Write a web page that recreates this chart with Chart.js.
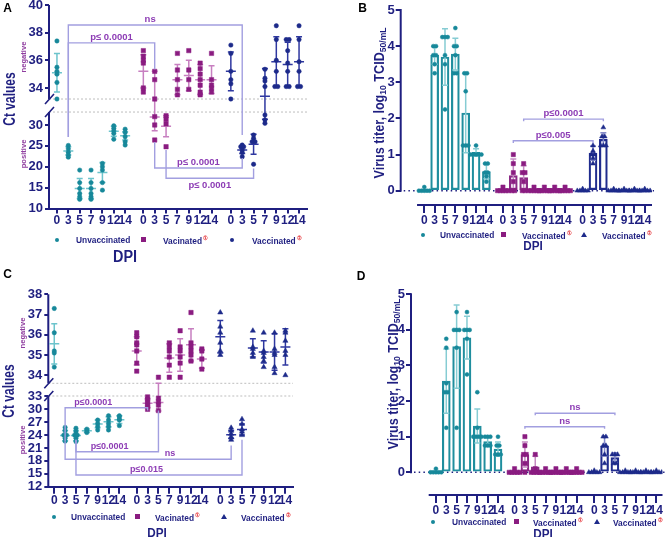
<!DOCTYPE html>
<html><head><meta charset="utf-8">
<script src="https://cdn.jsdelivr.net/npm/chart.js@4.4.1/dist/chart.umd.min.js"></script>
<style>
html,body{margin:0;padding:0;background:#fff;}
#wrap{position:relative;width:666px;height:537px;overflow:hidden;font-family:'Liberation Sans',Arial,sans-serif;}
canvas{position:absolute;}
.t{position:absolute;white-space:nowrap;font-weight:bold;line-height:1;color:#1f1f80;}
.mk{position:absolute;}
sub{font-size:0.68em;vertical-align:-0.25em;line-height:0;}
.sup{color:#e3262b;font-size:6px;vertical-align:4px;margin-left:1px;}
</style></head>
<body><div id="wrap">
<canvas id="cA" width="333" height="265" style="left:0;top:0"></canvas>
<canvas id="cB" width="333" height="265" style="left:333px;top:0"></canvas>
<canvas id="cC" width="333" height="272" style="left:0;top:265px"></canvas>
<canvas id="cD" width="333" height="272" style="left:333px;top:265px"></canvas>
</div>
<script>
// ---------------- DATA ----------------
const DAYS = ['0','3','5','7','9','12','14'];
const GROUPS_AC = ['Unvaccinated','Vacinated','Vaccinated'];
const GROUPS_BD = ['Unvaccinated','Vaccinated','Vaccinated'];
const GROUP_SUP = ['','①','②'];
const TICKS_A = [10,15,20,25,30,34,36,38,40];
const TICKS_C = [12,15,18,21,24,27,30,33,34,35,36,37,38];
const TICKS_T = [0,1,2,3,4,5];

// Panel A: Ct values (points per DPI)
const aUnvacc = [[37.4,35.5,35.2,35.0,34.4,33.2],[25.1,24.3,23.5,22.8,22.3],[19.2,16.2,14.8,13.6,12.8,12.2],[19.2,16.2,14.8,13.6,12.8,12.2],[20.8,20.0,19.2,16.2,14.4],[29.8,29.2,28.6,28.0,26.6],[29.0,28.2,27.2,26.0,25.2]];
const aUnvaccMean = [35.1,23.8,14.8,14.8,18.6,28.5,27.4];
const aUnvaccSd = [1.4,1.0,2.4,2.4,2.4,1.2,1.0];
const aVac1 = [[36.7,36.3,36.0,35.8,34.0,33.7],[35.2,34.6,33.2,32.0,30.0,26.4],[32.2,31.4,30.3,24.8],[36.5,35.3,34.6,33.9,33.5],[36.7,35.3,34.6,33.9],[35.8,35.4,35.0,34.6,34.2,33.7,33.5],[36.5,34.6,34.2,34.0,33.7]];
const aVac1Mean = [35.2,31.9,29.7,34.6,34.9,34.6,34.6];
const aVac1Sd = [1.2,3.3,2.5,1.1,1.1,1.1,1.0];
const aVac2 = [[37.1,36.5,35.2,34.6,34.3,33.2],[25.2,24.8,24.8,24.0,23.4,22.4],[27.6,26.8,26.0,26.0,20.6],[35.35,34.7,34.5,34.1,32.4,31.2,30.4],[38.5,37.5,36.0,35.2,34.1,34.1],[37.5,37.5,36.7,35.8,35.2,34.1,34.1],[38.5,37.5,35.9,35.2,34.1,34.1]];
const aVac2Mean = [35.2,24.0,25.4,33.4,35.9,35.7,35.9];
const aVac2Sd = [1.4,0.8,2.4,2.0,1.8,1.6,1.8];

// Panel B: virus titer
const bUnvacc = [[0.1,0,0,0,0,0],[4.0,4.0,3.75,3.75,3.5,3.25],[4.25,4.25,4.25,3.75,3.5,2.25],[4.5,4.0,4.0,3.75,3.25,3.25],[3.25,3.25,2.75,1.25,1.25,1.25],[1.25,1.0,1.0,1.0,1.0,1.0],[0.75,0.75,0.5,0.5,0.4,0.25]];
const bUnvaccMean = [0.02,3.75,3.7,3.78,2.15,1.06,0.53];
const bUnvaccSd = [0,0.25,0.78,0.44,1.1,0.1,0.2];
const bVac1 = [[0.1,0,0,0,0,0],[1.0,0.75,0.5,0.25,0,0],[0.75,0.5,0.5,0.25,0,0],[0.1,0,0,0,0,0],[0.1,0,0,0,0,0],[0.1,0,0,0,0,0],[0.1,0,0,0,0,0]];
const bVac1Mean = [0.02,0.42,0.36,0.02,0.02,0.02,0.02];
const bVac1Sd = [0,0.46,0.33,0,0,0,0];
const bVac2 = [[0.05,0,0,0,0,0],[1.25,1.1,1.0,1.0,0.9,0.75],[1.75,1.5,1.5,1.25,1.25,1.25],[0.05,0,0,0,0,0],[0.05,0,0,0,0,0],[0.05,0,0,0,0,0],[0.05,0,0,0,0,0]];
const bVac2Mean = [0.02,1.04,1.42,0.02,0.02,0.02,0.02];
const bVac2Sd = [0,0.2,0.18,0,0,0,0];

// Panel C: Ct values
const cUnvacc = [[37.3,36.1,35.2,35.1,34.4],[25.8,25.0,24.0,24.0,23.3,22.6],[25.6,24.8,24.0,24.0,23.3,22.5],[25.4,25.0,24.6],[27.5,26.7,26.0,25.2],[28.5,27.5,26.7,26.0,25.2],[28.5,28.3,27.7,27.5,26.2]];
const cUnvaccMean = [35.55,23.9,23.9,25.0,26.6,27.1,27.6];
const cUnvaccSd = [1.0,1.2,1.2,0.4,0.9,1.2,0.9];
const cVac1 = [[36.1,35.9,35.6,35.5,35.2,34.6,34.2],[32.9,32.3,31.7,31.1,30.6,30.0],[33.9,32.6,31.8,31.0,29.7],[35.6,35.4,35.2,34.9,34.5,33.9],[36.2,35.4,35.2,34.9,34.6,33.9],[37.1,35.6,35.4,35.2,35.0,34.7],[35.3,35.2,34.8,34.3]];
const cVac1Mean = [35.2,31.4,31.6,34.85,35.0,35.5,34.8];
const cVac1Sd = [0.7,1.0,2.0,0.7,0.8,0.8,0.45];
const cVac2 = [[37.1,36.4,36.1,35.6,35.2,35.0],[25.7,25.0,24.3,23.6,22.9],[27.7,26.6,25.3,24.8,24.0],[36.2,35.4,35.3,35.1,34.9],[36.1,35.2,35.1,34.9,34.7,34.4],[36.1,35.3,35.1,35.0,34.4,34.1],[36.2,36.1,35.7,35.2,35.0,34.0]];
const cVac2Mean = [35.9,24.1,25.3,35.35,35.15,35.15,35.4];
const cVac2Sd = [0.8,0.9,1.3,0.45,0.55,0.9,0.9];

// Panel D: virus titer
const dUnvacc = [[0.1,0,0,0,0,0],[3.75,3.5,2.5,2.25,2.25,1.25],[4.5,4.0,4.0,4.0,3.5,1.25],[4.5,4.0,4.0,4.0,3.75,2.75],[2.25,1.25,1.0,1.0,1.0,1.0],[1.0,1.0,1.0,0.75,0.75,0.75],[1.0,0.75,0.75,0.5,0.5,0.5]];
const dUnvaccMean = [0.02,2.56,3.53,3.78,1.3,0.86,0.65];
const dUnvaccSd = [0,0.9,1.17,0.6,0.48,0.13,0.2];
const dVac1 = [[0.1,0,0,0,0,0],[1.0,0.75,0.5,0.5,0.25,0],[0.5,0.1,0,0,0,0],[0.1,0,0,0,0,0],[0.1,0,0,0,0,0],[0.1,0,0,0,0,0],[0.1,0,0,0,0,0]];
const dVac1Mean = [0.02,0.5,0.15,0.02,0.02,0.02,0.02];
const dVac1Sd = [0,0.35,0.3,0,0,0,0];
const dVac2 = [[0.05,0,0,0,0,0],[1.0,1.0,0.75,0.75,0.5,0.25],[0.5,0.5,0.5,0.25,0.25],[0.05,0,0,0,0,0],[0.05,0,0,0,0,0],[0.05,0,0,0,0,0],[0.05,0,0,0,0,0]];
const dVac2Mean = [0.02,0.74,0.41,0.02,0.02,0.02,0.02];
const dVac2Sd = [0,0.28,0.14,0,0,0,0];

// Significance annotations: [group, dayIndex] pairs, levels in axis units
const bracketsA = [
  {from:[0,1], to:[2,1], level:38.55, e1:27.1, e2:27.6, label:'ns', lx:8.2},
  {from:[0,1], to:[1,1], level:37.26, e1:27.1, e2:35.35, label:'p≤ 0.0001'},
  {from:[1,1], to:[2,1], level:19.7, e1:25.9, e2:22.1, label:'p≤ 0.0001'},
  {from:[1,2], to:[2,2], level:17.24, e1:24.0, e2:19.6, label:'p≤ 0.0001', below:true}
];
const bracketsB = [
  {from:[1,2], to:[2,2], level:1.98, e1:1.92, e2:1.92, label:'p≤0.0001'},
  {from:[1,1], to:[2,1], level:1.38, e1:1.32, e2:1.32, label:'p≤0.005'}
];
const bracketsC = [
  {from:[0,1], to:[1,1], level:30.37, e1:22.5, e2:29.7, label:'p≤0.0001', lx:3.6},
  {from:[0,2], to:[1,2], level:20.14, e1:22.9, e2:29.7, label:'p≤0.0001', lx:5.1},
  {from:[0,1], to:[2,1], level:18.37, e1:22.5, e2:21.6, label:'ns', lx:10.66},
  {from:[0,2], to:[2,2], level:14.72, e1:22.9, e2:22.9, label:'p≤0.015', lx:8.5}
];
const bracketsD = [
  {from:[1,2], to:[2,2], level:1.66, e1:1.6, e2:1.6, label:'ns'},
  {from:[1,1], to:[2,1], level:1.28, e1:1.22, e2:1.22, label:'ns'}
];

// ---------------- STYLE / LAYOUT ----------------
const NAVY = '#1f1f80';
const BRACKET = '#a29fe0';
const PTEXT = '#8d3cb5';
const COL = [
  {pt:'#17889a', sd:'#6cc4cc', bar:'#1f8e9e', barSd:'#86ccd3'},
  {pt:'#8a1c80', sd:'#c77fc0', bar:'#8b2a86', barSd:'#c58bc2'},
  {pt:'#1d2a8a', sd:'#2f38a0', bar:'#202c8e', barSd:'#858bca'}
];
const GROUP_OFFSET = [0, 7.6, 15.3];
const xPos = (g, i) => GROUP_OFFSET[g] + i;
const XTICKS = [];
for (let g = 0; g < 3; g++) for (let i = 0; i < 7; i++) XTICKS.push(xPos(g, i));
const SPREAD = 0.26;
const XFONT = {family:"'Liberation Sans',Arial,sans-serif", size:12, weight:'bold'};
const YFONT = {family:"'Liberation Sans',Arial,sans-serif", size:13, weight:'bold'};

const L = {
  A:{w:333,h:265,left:49,right:307,top:5,bottom:208.5,xmin:-0.7,xmax:22.0,ymin:10,ymax:40,brk:{lowMax:33.1,highMin:33.2,lowFrac:0.474,highFrac:0.538},xTick:5,xPad:0,yTick:4,yPad:2},
  B:{w:333,h:265,left:67.7,right:319,top:10,bottom:205,xmin:-2.28,xmax:22.0,ymin:-0.396,ymax:5,axisStart:-0.7,xTick:8,xPad:0,yTick:5,yPad:1},
  C:{w:333,h:272,left:48.3,right:293,top:29.3,bottom:221.7,xmin:-0.55,xmax:22.0,ymin:12,ymax:38,brk:{lowMax:33.1,highMin:33.6,lowFrac:0.4714,highFrac:0.5374},xTick:7,xPad:0,yTick:4,yPad:2},
  D:{w:333,h:272,left:78,right:330.3,top:29.3,bottom:230,xmin:-2.41,xmax:21.9,ymin:-0.638,ymax:5,axisStart:-0.7,xTick:8,xPad:0,yTick:5,yPad:1}
};

// ---------------- broken scale ----------------
const LinearScale = Chart.LinearScale || Chart.registry.getScale('linear');
class BrokenScale extends LinearScale {
  _frac(v) {
    const b = this.options.brk, min = this.min, max = this.max;
    if (v <= b.lowMax) return (v - min) / (b.lowMax - min) * b.lowFrac;
    if (v >= b.highMin) return b.highFrac + (v - b.highMin) / (max - b.highMin) * (1 - b.highFrac);
    return b.lowFrac + (v - b.lowMax) / (b.highMin - b.lowMax) * (b.highFrac - b.lowFrac);
  }
  getPixelForValue(v) {
    if (v === null || v === undefined || isNaN(v)) return NaN;
    return this.bottom - this._frac(v) * (this.bottom - this.top);
  }
  getValueForPixel(p) {
    const b = this.options.brk, f = (this.bottom - p) / (this.bottom - this.top);
    if (f <= b.lowFrac) return this.min + f / b.lowFrac * (b.lowMax - this.min);
    if (f >= b.highFrac) return b.highMin + (f - b.highFrac) / (1 - b.highFrac) * (this.max - b.highMin);
    return b.lowMax + (f - b.lowFrac) / (b.highFrac - b.lowFrac) * (b.highMin - b.lowMax);
  }
}
BrokenScale.id = 'broken';
BrokenScale.defaults = {};
Chart.register(BrokenScale);

// ---------------- helpers ----------------
function spread(col, x) {
  const counts = {}, seen = {};
  col.forEach(v => counts[v] = (counts[v] || 0) + 1);
  return col.map(v => {
    const n = counts[v]; const k = seen[v] = (seen[v] || 0) + 1;
    return {x: x + (k - 1 - (n - 1) / 2) * SPREAD, y: v};
  });
}
function pointSet(cols, g, style, r) {
  const data = [];
  cols.forEach((col, i) => spread(col, xPos(g, i)).forEach(p => data.push(p)));
  return {type:'scatter', data, pointStyle:style, pointRadius:r, pointHoverRadius:r,
    pointBackgroundColor:COL[g].pt, pointBorderColor:COL[g].pt, pointBorderWidth:0.5, order:1};
}
function barSet(means, g) {
  return {type:'bar', data: means.map((m, i) => ({x:xPos(g, i), y:m})), backgroundColor:'#ffffff',
    borderColor:COL[g].bar, borderWidth:2.2, borderSkipped:false, barThickness:8, grouped:false, order:2};
}

function statsPlugin(stats, isBar) {
  let done = false;
  return {
    id:'stats',
    beforeDatasetsDraw() { done = false; },
    beforeDatasetDraw(chart, args) {
      if (done || chart.data.datasets[args.index].type !== 'scatter') return;
      done = true;
      const xs = chart.scales.x, ys = chart.scales.y, ctx = chart.ctx;
      ctx.save();
      ctx.lineWidth = 1.5;
      stats.forEach(s => {
        ctx.strokeStyle = isBar ? COL[s.g].barSd : COL[s.g].sd;
        s.mean.forEach((m, i) => {
          const sd = s.sd[i];
          if (!sd || sd < 0.05) return;
          const x = xs.getPixelForValue(xPos(s.g, i));
          const yT = ys.getPixelForValue(m + sd), yB = ys.getPixelForValue(Math.max(m - sd, isBar ? 0 : -1e9)), yM = ys.getPixelForValue(m);
          ctx.beginPath();
          ctx.moveTo(x, yT); ctx.lineTo(x, yB);
          ctx.moveTo(x - 3, yT); ctx.lineTo(x + 3, yT);
          ctx.moveTo(x - 3, yB); ctx.lineTo(x + 3, yB);
          if (!isBar) { ctx.moveTo(x - 5, yM); ctx.lineTo(x + 5, yM); }
          ctx.stroke();
        });
      });
      ctx.restore();
    }
  };
}

function axesPlugin(lay) {
  return {
    id:'axes',
    beforeDatasetsDraw(chart) {
      const ctx = chart.ctx, ys = chart.scales.y, xs = chart.scales.x, ca = chart.chartArea;
      ctx.save();
      ctx.strokeStyle = NAVY; ctx.lineWidth = 2;
      if (lay.brk) {
        const yHi = ys.getPixelForValue(lay.brk.highMin), yLo = ys.getPixelForValue(lay.brk.lowMax);
        ctx.save();
        ctx.strokeStyle = '#bdbdbd'; ctx.lineWidth = 1; ctx.setLineDash([2, 2]);
        ctx.beginPath(); ctx.moveTo(ca.left, yHi); ctx.lineTo(ca.right, yHi);
        ctx.moveTo(ca.left, yLo); ctx.lineTo(ca.right, yLo); ctx.stroke();
        ctx.restore();
        ctx.beginPath();
        ctx.moveTo(ca.left, ca.top); ctx.lineTo(ca.left, yHi);
        ctx.moveTo(ca.left, yLo); ctx.lineTo(ca.left, ca.bottom + 1);
        ctx.stroke();
        ctx.lineWidth = 1.6;
        ctx.beginPath();
        ctx.moveTo(ca.left - 4, yHi + 5); ctx.lineTo(ca.left + 5, yHi - 5);
        ctx.moveTo(ca.left - 4, yLo + 5); ctx.lineTo(ca.left + 5, yLo - 5);
        ctx.stroke();
      } else {
        const y0 = ys.getPixelForValue(0), y5 = ys.getPixelForValue(lay.ymax);
        ctx.beginPath(); ctx.moveTo(ca.left, y5 - 1); ctx.lineTo(ca.left, y0 + 1); ctx.stroke();
        ctx.beginPath(); ctx.moveTo(xs.getPixelForValue(lay.axisStart), ca.bottom); ctx.lineTo(ca.right, ca.bottom); ctx.stroke();
        ctx.save();
        ctx.lineWidth = 1.5; ctx.setLineDash([1.5, 3.2]);
        ctx.beginPath(); ctx.moveTo(ca.left + 3, y0); ctx.lineTo(ca.right + 2, y0); ctx.stroke();
        ctx.restore();
      }
      ctx.restore();
    }
  };
}

function bracketPlugin(list, fontSize) {
  return {
    id:'brackets',
    afterDatasetsDraw(chart) {
      const ctx = chart.ctx, xs = chart.scales.x, ys = chart.scales.y;
      ctx.save();
      ctx.strokeStyle = BRACKET; ctx.lineWidth = 1.4;
      ctx.fillStyle = PTEXT;
      ctx.font = 'bold ' + fontSize + "px 'Liberation Sans', Arial, sans-serif";
      ctx.textAlign = 'center';
      list.forEach(b => {
        const x1 = xs.getPixelForValue(xPos(b.from[0], b.from[1]));
        const x2 = xs.getPixelForValue(xPos(b.to[0], b.to[1]));
        const yl = ys.getPixelForValue(b.level);
        ctx.beginPath();
        ctx.moveTo(x1, ys.getPixelForValue(b.e1)); ctx.lineTo(x1, yl);
        ctx.lineTo(x2, yl); ctx.lineTo(x2, ys.getPixelForValue(b.e2));
        ctx.stroke();
        const lx = b.lx !== undefined ? xs.getPixelForValue(b.lx) : (x1 + x2) / 2;
        if (b.below) { ctx.textBaseline = 'top'; ctx.fillText(b.label, lx, yl + 2); }
        else { ctx.textBaseline = 'bottom'; ctx.fillText(b.label, lx, yl - 1); }
      });
      ctx.restore();
    }
  };
}

function scales(lay, yticks, broken) {
  return {
    x: {type:'linear', min:lay.xmin, max:lay.xmax, offset:false, bounds:'data',
      afterBuildTicks: s => { s.ticks = XTICKS.map(v => ({value:v})); },
      afterFit: s => { s.height = lay.h - lay.bottom; s.paddingLeft = 0; s.paddingRight = 0; },
      ticks:{autoSkip:false, maxRotation:0, minRotation:0, padding:lay.xPad, color:NAVY, font:XFONT,
        callback:(v, i) => DAYS[i % 7]},
      grid:{display:true, drawOnChartArea:false, drawTicks:true, tickLength:lay.xTick, color:NAVY, lineWidth:2, offset:false},
      border:{display:!!broken, color:NAVY, width:2}
    },
    y: Object.assign({type: broken ? 'broken' : 'linear', min:lay.ymin, max:lay.ymax, bounds:'data',
      afterBuildTicks: s => { s.ticks = yticks.map(v => ({value:v})); },
      afterFit: s => { s.width = lay.left; s.paddingTop = 0; s.paddingBottom = 0; },
      ticks:{autoSkip:false, padding:lay.yPad, color:NAVY, font:YFONT},
      grid:{display:true, drawOnChartArea:false, drawTicks:true, tickLength:lay.yTick, color:NAVY, lineWidth:2},
      border:{display:false}
    }, broken ? {brk:lay.brk} : {})
  };
}

function baseOptions(lay) {
  return {
    responsive:false, maintainAspectRatio:false, animation:false, devicePixelRatio:1,
    layout:{padding:{left:0, top:lay.top, right:lay.w - lay.right, bottom:0}},
    plugins:{legend:{display:false}, tooltip:{enabled:false}},
    events:[]
  };
}

// ---------------- charts ----------------
function ctPanel(id, lay, ticks, sets, stats, brackets, navyStyle, fs) {
  const opts = baseOptions(lay);
  opts.scales = scales(lay, ticks, true);
  new Chart(document.getElementById(id), {
    type:'scatter',
    data:{datasets:[
      pointSet(sets[0], 0, 'circle', 2.2),
      pointSet(sets[1], 1, 'rect', 3.1),
      pointSet(sets[2], 2, navyStyle, navyStyle === 'triangle' ? 3 : 2.2)
    ]},
    options:opts,
    plugins:[axesPlugin(lay), statsPlugin(stats, false), bracketPlugin(brackets, fs)]
  });
}
function titerPanel(id, lay, sets, stats, brackets, fs) {
  const opts = baseOptions(lay);
  opts.scales = scales(lay, TICKS_T, false);
  new Chart(document.getElementById(id), {
    type:'bar',
    data:{datasets:[
      barSet(stats[0].mean, 0), barSet(stats[1].mean, 1), barSet(stats[2].mean, 2),
      pointSet(sets[0], 0, 'circle', 2),
      pointSet(sets[1], 1, 'rect', 3),
      pointSet(sets[2], 2, 'triangle', 2.8)
    ]},
    options:opts,
    plugins:[axesPlugin(lay), statsPlugin(stats, true), bracketPlugin(brackets, fs)]
  });
}

ctPanel('cA', L.A, TICKS_A, [aUnvacc, aVac1, aVac2],
  [{g:0, mean:aUnvaccMean, sd:aUnvaccSd}, {g:1, mean:aVac1Mean, sd:aVac1Sd}, {g:2, mean:aVac2Mean, sd:aVac2Sd}],
  bracketsA, 'circle', 9.5);
titerPanel('cB', L.B, [bUnvacc, bVac1, bVac2],
  [{g:0, mean:bUnvaccMean, sd:bUnvaccSd}, {g:1, mean:bVac1Mean, sd:bVac1Sd}, {g:2, mean:bVac2Mean, sd:bVac2Sd}],
  bracketsB, 9.5);
ctPanel('cC', L.C, TICKS_C, [cUnvacc, cVac1, cVac2],
  [{g:0, mean:cUnvaccMean, sd:cUnvaccSd}, {g:1, mean:cVac1Mean, sd:cVac1Sd}, {g:2, mean:cVac2Mean, sd:cVac2Sd}],
  bracketsC, 'triangle', 9);
titerPanel('cD', L.D, [dUnvacc, dVac1, dVac2],
  [{g:0, mean:dUnvaccMean, sd:dUnvaccSd}, {g:1, mean:dVac1Mean, sd:dVac1Sd}, {g:2, mean:dVac2Mean, sd:dVac2Sd}],
  bracketsD, 9.5);

// ---------------- HTML text (titles, legends) ----------------
const wrap = document.getElementById('wrap');
function txt(html, x, y, css, transform) {
  const d = document.createElement('div');
  d.className = 't'; d.innerHTML = html;
  d.style.left = x + 'px'; d.style.top = y + 'px';
  if (css) d.style.cssText += css;
  d.style.transform = transform || 'translate(-50%,-50%)';
  wrap.appendChild(d);
  return d;
}
function marker(kind, g, x, y) {
  const d = document.createElement('div'); d.className = 'mk';
  const c = COL[g].pt;
  if (kind === 'circle') d.style.cssText += `left:${x-2}px;top:${y-2}px;width:4px;height:4px;border-radius:50%;background:${c};`;
  else if (kind === 'rect') d.style.cssText += `left:${x-2.5}px;top:${y-2.5}px;width:5px;height:5px;background:${c};`;
  else d.style.cssText += `left:${x-3}px;top:${y-3}px;width:0;height:0;border-left:3px solid transparent;border-right:3px solid transparent;border-bottom:5px solid ${c};`;
  wrap.appendChild(d);
}
const PANEL_TEXT = [
  {letter:'A', lx:7.5, ly:7.5, names:GROUPS_AC, kinds:['circle','rect','circle'], legY:239.5, leg:[[57,76],[143,163],[232,252]], dpi:[125,257,16]},
  {letter:'B', lx:362.5, ly:7.5, names:GROUPS_BD, kinds:['circle','rect','triangle'], legY:234.5, leg:[[423.3,440],[503.3,521.7],[584,601.7]], dpi:[533,244.5,13]},
  {letter:'C', lx:7.5, ly:274, names:GROUPS_AC, kinds:['circle','rect','triangle'], legY:516.5, leg:[[54.3,70.7],[137.3,155],[224.3,240.7]], dpi:[157,531.5,13]},
  {letter:'D', lx:361, ly:276, names:GROUPS_BD, kinds:['circle','rect','triangle'], legY:521.5, leg:[[433.3,451.7],[516.7,533.3],[596.7,613.3]], dpi:[543,532.5,13]}
];
PANEL_TEXT.forEach(p => {
  txt(p.letter, p.lx, p.ly, 'font-size:12px;color:#000;');
  p.leg.forEach((pos, g) => {
    marker(p.kinds[g], g, pos[0], p.legY);
    const sup = GROUP_SUP[g] ? `<span class="sup">${GROUP_SUP[g]}</span>` : '';
    txt(p.names[g] + sup, pos[1], p.legY, 'font-size:9.5px;transform-origin:0 50%;', 'translate(0,-50%) scaleX(0.88)');
  });
  txt('DPI', p.dpi[0], p.dpi[1], `font-size:${p.dpi[2]}px;`, 'translate(-50%,-50%) scaleX(0.9)');
});
// y titles
txt('Ct values', 9.5, 99, 'font-size:16px;', 'translate(-50%,-50%) rotate(-90deg) scaleX(0.75)');
txt('Ct values', 9, 391, 'font-size:16px;', 'translate(-50%,-50%) rotate(-90deg) scaleX(0.75)');
txt('negative', 23.5, 57, 'font-size:8px;color:#8f3d9f;', 'translate(-50%,-50%) rotate(-90deg) scaleX(0.95)');
txt('positive', 23.5, 154, 'font-size:8px;color:#8f3d9f;', 'translate(-50%,-50%) rotate(-90deg) scaleX(0.95)');
txt('negative', 23.3, 333, 'font-size:8px;color:#8f3d9f;', 'translate(-50%,-50%) rotate(-90deg) scaleX(0.95)');
txt('positive', 23.3, 440, 'font-size:8px;color:#8f3d9f;', 'translate(-50%,-50%) rotate(-90deg) scaleX(0.95)');
const TITER = 'Virus titer, log<sub>10</sub> TCID<sub>50/mL</sub>';
txt(TITER, 379, 102.5, 'font-size:14px;', 'translate(-50%,-50%) rotate(-90deg) scaleX(0.9)');
txt(TITER, 392.5, 374, 'font-size:14px;', 'translate(-50%,-50%) rotate(-90deg) scaleX(0.9)');
</script>
</body></html>
